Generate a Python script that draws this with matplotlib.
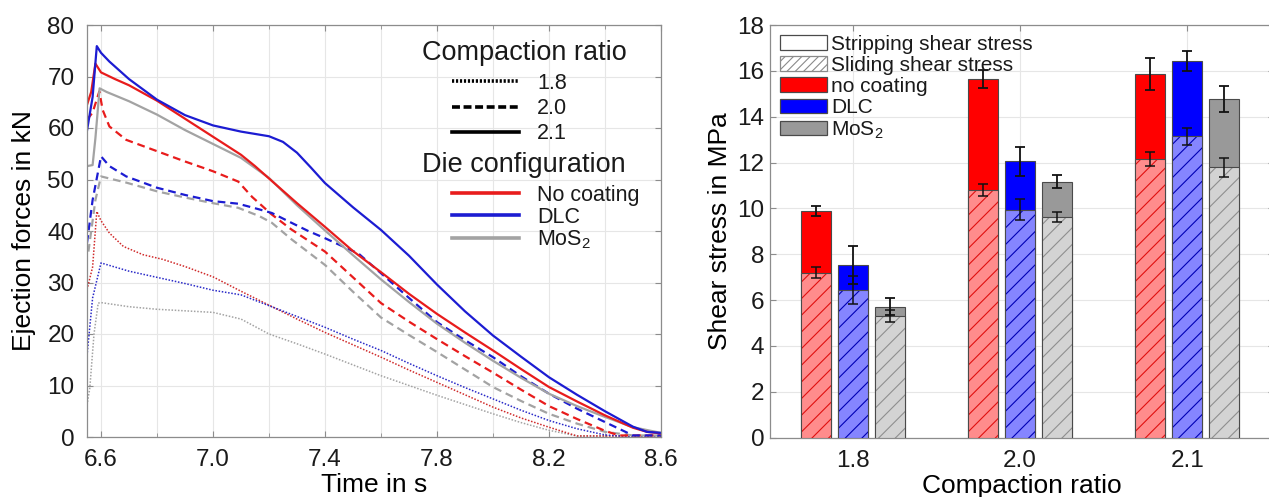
import matplotlib
matplotlib.use("Agg")
import matplotlib.pyplot as plt
from matplotlib.lines import Line2D
from matplotlib.patches import Patch
from matplotlib.ticker import MultipleLocator
import numpy as np

plt.rcParams["font.family"] = ["Liberation Sans", "DejaVu Sans"]
plt.rcParams["mathtext.fontset"] = "custom"
plt.rcParams["mathtext.rm"] = "Liberation Sans"
plt.rcParams["mathtext.it"] = "Liberation Sans:italic"
plt.rcParams["hatch.linewidth"] = 0.8

# ---- left panel: ejection force curves ----
# compaction ratio 2.1 (solid)
t_nc_21 = [6.55, 6.565, 6.58, 6.6, 6.65, 6.7, 6.8, 6.9, 7.0, 7.1, 7.15, 7.2, 7.3, 7.4,
           7.5, 7.6, 7.7, 7.8, 7.9, 8.0, 8.1, 8.2, 8.3, 8.4, 8.5, 8.55, 8.6]
f_nc_21 = [64.5, 67, 72.5, 70.8, 69.5, 68.3, 65.3, 61.8, 58.3, 54.8, 52.6, 50.2, 45.4, 40.8,
           36.1, 32.0, 27.8, 23.9, 20.3, 16.8, 13.2, 9.7, 6.9, 4.2, 1.8, 1.0, 0.7]
t_dlc_21 = [6.55, 6.57, 6.585, 6.6, 6.63, 6.7, 6.8, 6.9, 7.0, 7.1, 7.2, 7.25, 7.3, 7.35,
            7.4, 7.5, 7.6, 7.7, 7.8, 7.9, 8.0, 8.1, 8.2, 8.3, 8.4, 8.5, 8.55, 8.6]
f_dlc_21 = [59.5, 66, 75.9, 74.6, 72.9, 69.5, 65.5, 62.5, 60.5, 59.3, 58.4, 57.3, 55.2, 52.3,
            49.3, 44.6, 40.2, 35.2, 29.6, 24.4, 19.7, 15.6, 11.6, 8.2, 5.0, 2.0, 1.0, 0.8]
t_mos_21 = [6.55, 6.57, 6.58, 6.595, 6.62, 6.7, 6.8, 6.9, 7.0, 7.1, 7.2, 7.3, 7.4, 7.5,
            7.6, 7.7, 7.8, 7.9, 8.0, 8.1, 8.2, 8.3, 8.4, 8.5, 8.6]
f_mos_21 = [52.6, 52.8, 58, 67.7, 67.0, 65.2, 62.6, 59.6, 56.9, 54.2, 50.3, 45.0, 40.1, 35.3,
            30.6, 26.2, 22.0, 18.3, 14.8, 11.5, 8.4, 6.0, 3.9, 1.9, 0.8]

# compaction ratio 2.0 (dashed)
t_nc_20 = [6.55, 6.57, 6.594, 6.606, 6.63, 6.69, 6.8, 6.9, 7.0, 7.09, 7.14, 7.21, 7.28,
           7.4, 7.5, 7.6, 7.7, 7.8, 7.9, 8.0, 8.1, 8.2, 8.3, 8.4, 8.45, 8.6]
f_nc_20 = [61.6, 63, 67.1, 63.5, 60.3, 57.7, 55.5, 53.5, 51.6, 49.6, 46.6, 43.2, 40.3,
           36, 31, 26, 22.4, 19, 15.7, 12.5, 9.2, 6, 3.5, 1.2, 0.3, 0.3]
t_dlc_20 = [6.55, 6.57, 6.6, 6.63, 6.69, 6.8, 6.9, 7.0, 7.09, 7.165, 7.21, 7.28, 7.34,
            7.4, 7.52, 7.6, 7.7, 7.8, 7.9, 8.0, 8.1, 8.2, 8.3, 8.4, 8.5, 8.6]
f_dlc_20 = [37.7, 46, 54.5, 52.6, 50.6, 48.4, 47.0, 45.8, 45.3, 44.2, 43.5, 41.6, 40.0,
            38.6, 35.6, 31.8, 27.0, 22.3, 18.8, 15.5, 11.8, 8.4, 5.5, 2.9, 0.3, 0.3]
t_mos_20 = [6.555, 6.58, 6.6, 6.69, 6.8, 6.9, 7.0, 7.09, 7.165, 7.21, 7.28, 7.4, 7.5,
            7.6, 7.7, 7.8, 7.9, 8.0, 8.1, 8.2, 8.3, 8.4, 8.5, 8.6]
f_mos_20 = [36, 46, 50.6, 49.4, 47.7, 46.5, 45.4, 44.5, 42.9, 41.6, 38.4, 33.4, 28.2,
            23.2, 19.8, 16.5, 13.1, 9.7, 7.0, 4.5, 2.6, 1.0, 0.3, 0.3]

# compaction ratio 1.8 (dotted)
t_nc_18 = [6.55, 6.57, 6.585, 6.6, 6.63, 6.68, 6.75, 6.82, 6.9, 7.0, 7.1, 7.2, 7.3, 7.4,
           7.5, 7.6, 7.7, 7.8, 7.9, 8.0, 8.1, 8.2, 8.3, 8.6]
f_nc_18 = [28.6, 33, 43.8, 42, 39.6, 37, 35.4, 34.5, 33.1, 31.1, 28.3, 25.6, 22.9, 20.3,
           17.9, 15.5, 13.0, 10.6, 8.2, 5.8, 3.7, 1.9, 0.2, 0.2]
t_dlc_18 = [6.55, 6.57, 6.6, 6.65, 6.7, 6.8, 6.9, 7.0, 7.1, 7.2, 7.3, 7.4, 7.5, 7.6,
            7.7, 7.8, 7.9, 8.0, 8.1, 8.2, 8.3, 8.4, 8.45, 8.6]
f_dlc_18 = [15.8, 27, 33.8, 33.0, 32.2, 31.0, 29.8, 28.5, 27.6, 25.5, 23.4, 21.3, 19.0, 16.8,
            14.3, 11.9, 9.6, 7.4, 5.2, 3.2, 1.6, 0.4, 0.2, 0.2]
t_mos_18 = [6.55, 6.56, 6.575, 6.59, 6.6, 6.7, 6.8, 6.9, 7.0, 7.1, 7.2, 7.3, 7.4, 7.5,
            7.6, 7.7, 7.8, 7.9, 8.0, 8.1, 8.2, 8.3, 8.6]
f_mos_18 = [6.2, 9.5, 20, 26, 26.1, 25.3, 24.8, 24.5, 24.2, 22.9, 20.0, 18.1, 16.1, 14.0,
            11.9, 10.0, 8.1, 6.3, 4.5, 2.8, 1.3, 0.2, 0.2]

# ---- right panel: shear stress bars ----
ratios = ["1.8", "2.0", "2.1"]
coatings = ["no coating", "DLC", "MoS$_2$"]
strip_nc = [9.88, 15.64, 15.86]
strip_dlc = [7.53, 12.06, 16.44]
strip_mos = [5.72, 11.16, 14.78]
strip_err_nc = [0.23, 0.40, 0.69]
strip_err_dlc = [0.83, 0.63, 0.44]
strip_err_mos = [0.37, 0.29, 0.58]
slide_nc = [7.19, 10.80, 12.14]
slide_dlc = [6.44, 9.95, 13.15]
slide_mos = [5.31, 9.64, 11.79]
slide_err_nc = [0.24, 0.28, 0.31]
slide_err_dlc = [0.62, 0.45, 0.37]
slide_err_mos = [0.25, 0.22, 0.42]

RED, BLUE, GRAY = "#e81c1c", "#1c1cd2", "#a3a3a3"
SPINE = "#8c8c8c"
GRID = "#e6e6e6"
TXT = "#1a1a1a"

fig = plt.figure(figsize=(12.69, 4.97), dpi=100)
ax1 = fig.add_axes([87 / 1269, 60 / 497, 574 / 1269, 412 / 497])
ax2 = fig.add_axes([770 / 1269, 59.3 / 497, 504 / 1269, 412.7 / 497])


def style(ax):
    for s in ax.spines.values():
        s.set_color(SPINE)
        s.set_linewidth(0.9)
    ax.tick_params(which="both", direction="in", top=True, right=True,
                   color=SPINE, labelsize=17.5, labelcolor=TXT)
    ax.tick_params(which="major", length=4)
    ax.tick_params(which="minor", length=3)
    ax.set_axisbelow(True)


# left plot
solid = dict(lw=1.6, ls="-")
dash = dict(lw=1.6, ls=(0, (3.5, 2.2)))
dot = dict(lw=1.1, ls=(0, (1, 1.1)))
ax1.plot(t_mos_18, f_mos_18, color=GRAY, **dot)
ax1.plot(t_nc_18, f_nc_18, color="#d02a2a", **dot)
ax1.plot(t_dlc_18, f_dlc_18, color="#2a2ac8", **dot)
ax1.plot(t_mos_20, f_mos_20, color=GRAY, **dash)
ax1.plot(t_nc_20, f_nc_20, color=RED, **dash)
ax1.plot(t_dlc_20, f_dlc_20, color=BLUE, **dash)
ax1.plot(t_mos_21, f_mos_21, color=GRAY, **solid)
ax1.plot(t_nc_21, f_nc_21, color=RED, **solid)
ax1.plot(t_dlc_21, f_dlc_21, color=BLUE, **solid)

ax1.set_xlim(6.55, 8.6)
ax1.set_ylim(0, 80)
ax1.xaxis.set_minor_locator(MultipleLocator(0.2))
ax1.yaxis.set_major_locator(MultipleLocator(10))
ax1.set_xticks([6.6, 7.0, 7.4, 7.8, 8.2, 8.6])
ax1.set_xticklabels(["6.6", "7.0", "7.4", "7.8", "8.2", "8.6"])
style(ax1)
ax1.tick_params(axis="x", pad=9)
ax1.tick_params(axis="y", pad=9)
ax1.grid(True, which="both", color=GRID, lw=0.8)
ax1.set_xlabel("Time in s", fontsize=19, labelpad=1)
ax1.set_ylabel("Ejection forces in kN", fontsize=19, labelpad=8)

ax1.text((422 - 87) / 574, (437 - 60) / 412, "Compaction ratio", transform=ax1.transAxes,
         fontsize=19.5, va="baseline", ha="left", color=TXT)
ax1.text((422 - 87) / 574, (437 - 172) / 412, "Die configuration", transform=ax1.transAxes,
         fontsize=19.5, va="baseline", ha="left", color=TXT)
h_ratio = [Line2D([], [], color="k", lw=2.6, ls=(0, (0.6, 0.5))),
           Line2D([], [], color="k", lw=2.6, ls=(0, (2.2, 1.0))),
           Line2D([], [], color="k", lw=2.6, ls="-")]
leg1 = ax1.legend(h_ratio, ratios, loc="upper left",
                  bbox_to_anchor=((452 - 87) / 574, (437 - 73) / 412),
                  frameon=False, fontsize=15.5, handlelength=3.1, handletextpad=0.85,
                  labelspacing=0.19, borderpad=0, borderaxespad=0)
for t in leg1.get_texts():
    t.set_color(TXT)
ax1.add_artist(leg1)
h_die = [Line2D([], [], color=RED, lw=2.6), Line2D([], [], color=BLUE, lw=2.6),
         Line2D([], [], color=GRAY, lw=2.6)]
leg2 = ax1.legend(h_die, ["No coating", "DLC", "MoS$_2$"], loc="upper left",
                  bbox_to_anchor=((452 - 87) / 574, (437 - 185) / 412),
                  frameon=False, fontsize=15.5, handlelength=3.1, handletextpad=0.85,
                  labelspacing=0.03, borderpad=0, borderaxespad=0)
for t in leg2.get_texts():
    t.set_color(TXT)

# right plot
x = np.arange(1, len(ratios) + 1)
w = 0.18
off = 0.222
groups = [
    (strip_nc, strip_err_nc, slide_nc, slide_err_nc, "#ff0000", "#ff8c8c", "#e01010"),
    (strip_dlc, strip_err_dlc, slide_dlc, slide_err_dlc, "#0000ff", "#8585ff", "#0000b4"),
    (strip_mos, strip_err_mos, slide_mos, slide_err_mos, "#999999", "#d3d3d3", "#8f8f8f"),
]
EDGE = "#4a4a4a"
for i, (st, ste, sl, sle, top_c, light_c, hatch_c) in enumerate(groups):
    xi = x + (i - 1) * off
    ax2.bar(xi, st, w, color=top_c, edgecolor=EDGE, lw=0.8, zorder=2)
    ax2.bar(xi, sl, w, color=light_c, edgecolor=hatch_c, hatch="//", lw=0, zorder=3)
    ax2.bar(xi, sl, w, fill=False, edgecolor=EDGE, lw=0.8, zorder=4)
    ax2.errorbar(xi, st, yerr=ste, fmt="none", ecolor="#111111", elinewidth=1.3,
                 capsize=3.6, capthick=1.3, zorder=5)
    ax2.errorbar(xi, sl, yerr=sle, fmt="none", ecolor="#111111", elinewidth=1.1,
                 capsize=3.6, capthick=1.1, zorder=5)

ax2.set_xlim(0.503, 3.52)
ax2.set_ylim(0, 18)
ax2.set_xticks(x)
ax2.set_xticklabels(ratios)
ax2.yaxis.set_major_locator(MultipleLocator(2))
style(ax2)
ax2.tick_params(axis="x", pad=9)
ax2.tick_params(axis="y", pad=4)
ax2.grid(True, color=GRID, lw=0.8)
ax2.set_xlabel("Compaction ratio", fontsize=19, labelpad=1)
ax2.set_ylabel("Shear stress in MPa", fontsize=19, labelpad=4)

h_bar = [Patch(facecolor="white", edgecolor=EDGE, lw=0.9),
         Patch(facecolor="white", edgecolor="#8a8a8a", hatch="////", lw=0.9),
         Patch(facecolor="#ff0000", edgecolor=EDGE, lw=0.9),
         Patch(facecolor="#0000ff", edgecolor=EDGE, lw=0.9),
         Patch(facecolor="#999999", edgecolor=EDGE, lw=0.9)]
leg3 = ax2.legend(h_bar, ["Stripping shear stress", "Sliding shear stress"] + coatings,
                  loc="upper left", bbox_to_anchor=(10 / 504, (437.7 - 35) / 412.7),
                  frameon=False, fontsize=15, handlelength=2.25, handleheight=0.72,
                  handletextpad=0.2, labelspacing=0.1, borderpad=0, borderaxespad=0)
for t in leg3.get_texts():
    t.set_color(TXT)

fig.savefig("out.png", dpi=100)
